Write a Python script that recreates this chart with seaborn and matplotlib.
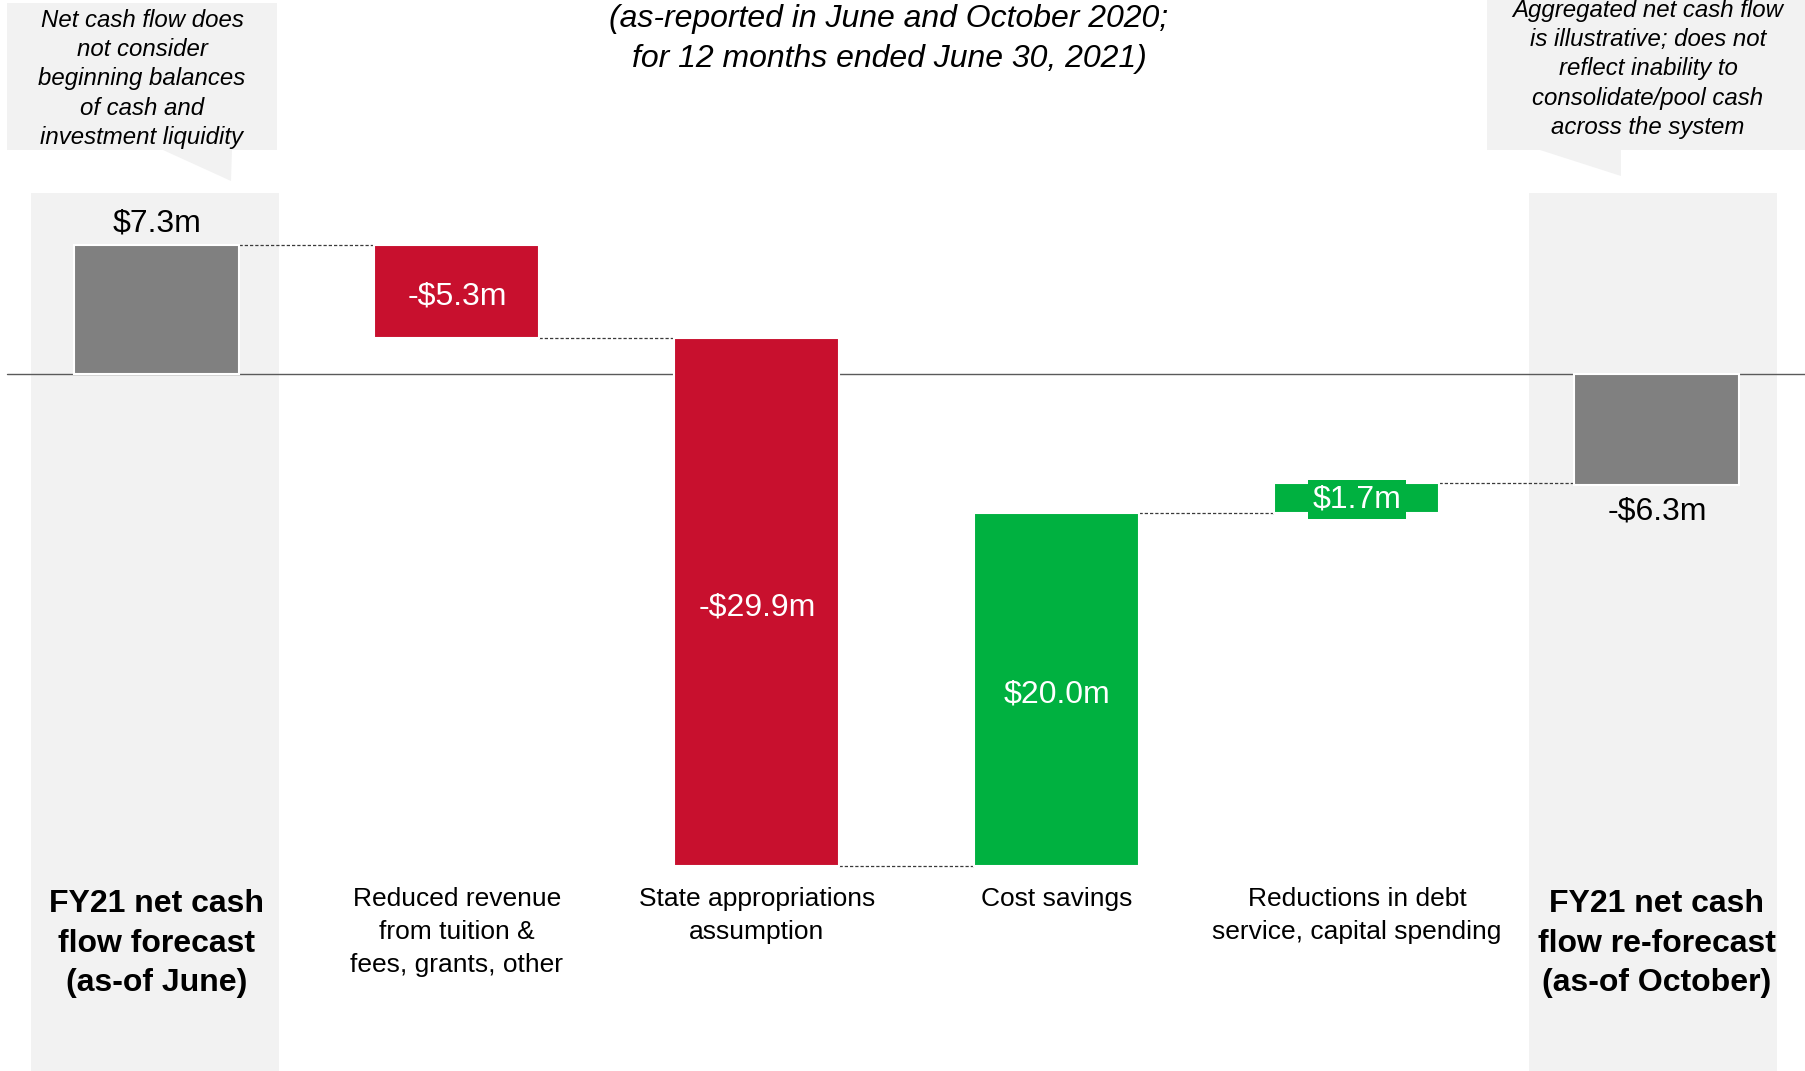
import numpy as np
import pandas as pd
import matplotlib
matplotlib.use("Agg")
import matplotlib.pyplot as plt
import matplotlib.transforms as mtransforms
from matplotlib.patches import Polygon
import seaborn as sns

# ---------------- data ----------------
keys = ["june", "revenue", "state", "cost", "debt", "october"]
category_labels = [
    "FY21 net cash\nflow forecast\n(as-of June)",
    "Reduced revenue\nfrom tuition &\nfees, grants, other",
    "State appropriations\nassumption",
    "Cost savings",
    "Reductions in debt\nservice, capital spending",
    "FY21 net cash\nflow re-forecast\n(as-of October)",
]
changes = [7.3, -5.3, -29.9, 20.0, 1.7, -6.3]
kinds = ["total", "delta", "delta", "delta", "delta", "total"]
value_labels = ["$7.3m", "-$5.3m", "-$29.9m", "$20.0m", "$1.7m", "-$6.3m"]
title_text = "(as-reported in June and October 2020;\nfor 12 months ended June 30, 2021)"
note_left = "Net cash flow does\nnot consider\nbeginning balances\nof cash and\ninvestment liquidity"
note_right = ("Aggregated net cash flow\nis illustrative; does not\nreflect inability to\n"
              "consolidate/pool cash\nacross the system")

# ---------------- styling ----------------
GRAY = "#808080"
RED = "#C8102E"
GREEN = "#00B140"
PANEL = "#F2F2F2"
LINE = "#5A5A5A"

sns.set_style("white")
plt.rcParams["font.family"] = ["Liberation Sans", "DejaVu Sans"]

W, H = 1806, 1071
fig = plt.figure(figsize=(W / 100, H / 100), dpi=100)
ax = fig.add_axes([0, 0, 1, 1])

# pixel geometry helpers (layout only)
X0, XSTEP = 157.0, 300.0     # pixel x of first category, spacing
Y0, YU = 373.5, 17.66        # pixel y of zero, pixels per unit


def py(p):
    return (Y0 - p) / YU


def pxx(p):
    return (p - X0) / XSTEP


PX = mtransforms.Affine2D().scale(1 / W, -1 / H).translate(0, 1) + fig.transFigure

# ---------------- waterfall geometry from data ----------------
bottoms, running = [], []
total = 0.0
for c, k in zip(changes, kinds):
    if k == "total":
        bottoms.append(0.0)
        total = c
    else:
        bottoms.append(total)
        total = total + c
    running.append(total)

colors = []
for c, k in zip(changes, kinds):
    if k == "total":
        colors.append(GRAY)
    else:
        colors.append(GREEN if c > 0 else RED)

df = pd.DataFrame({"cat": keys, "change": changes})

# background panels for the totals (pixel extents of the two panels)
for (l, r) in [(31, 279), (1529, 1777)]:
    ax.axvspan(pxx(l), pxx(r), ymin=0, ymax=1 - 193 / H,
               color=PANEL, zorder=0, lw=0)

# zero line
ax.axhline(0, xmin=7 / W, xmax=1, color=LINE, lw=1.0, zorder=1)

BW = 0.55
sns.barplot(data=df, x="cat", y="change", order=keys, bottom=bottoms,
            errorbar=None, width=BW, color=GRAY, edgecolor="white",
            linewidth=1.5, saturation=1, ax=ax, zorder=3)
for patch, col in zip(ax.containers[0], colors):
    patch.set_facecolor(col)

# connectors
for i in range(len(keys) - 1):
    ax.plot([i + BW / 2, i + 1 - BW / 2], [running[i], running[i]],
            color="#3A3A3A", lw=0.9, ls=(0, (2.6, 1.6)), zorder=2)

# value labels
SH = 0.28  # small downward nudge for visual centering
for i, (c, b, k, lab) in enumerate(zip(changes, bottoms, kinds, value_labels)):
    if k == "total":
        if c >= 0:
            ax.text(i, c + 1.45 - SH, lab, ha="center", va="center",
                    fontsize=23, color="black", zorder=5)
        else:
            ax.text(i, c - 1.5, lab, ha="center", va="center",
                    fontsize=23, color="black", zorder=5)
    else:
        mid = b + c / 2
        if abs(c) < 3:
            bbox = dict(boxstyle="square,pad=0.14", fc=colors[i], ec="none")
            ax.text(i, mid - 0.1, lab, ha="center", va="center", fontsize=23,
                    color="white", zorder=5, bbox=bbox)
        else:
            ax.text(i, mid - SH, lab, ha="center", va="center", fontsize=23,
                    color="white", zorder=5)

# category labels
for i, (lab, k) in enumerate(zip(category_labels, kinds)):
    if k == "total":
        ax.text(i, py(889), lab, ha="center", va="top", fontsize=23,
                fontweight="bold", linespacing=1.42, color="black")
    else:
        ax.text(i, py(887), lab, ha="center", va="top", fontsize=19,
                linespacing=1.47, color="black")

# callouts
left_poly = [(7, 3), (277, 3), (277, 150), (232, 150), (231, 181), (163, 150), (7, 150)]
right_poly = [(1487, 0), (1806, 0), (1806, 150), (1621, 150), (1621, 176), (1540, 150), (1487, 150)]
for poly in (left_poly, right_poly):
    ax.add_patch(Polygon(poly, closed=True, transform=PX, fc=PANEL, ec="none", zorder=1))

ax.text(142, 79, note_left, transform=PX, ha="center", va="center",
        fontsize=17.3, style="italic", linespacing=1.35, color="black")
ax.text(1648, 69, note_right, transform=PX, ha="center", va="center",
        fontsize=17.3, style="italic", linespacing=1.36, color="black")

# subtitle
ax.text(889, 39, title_text, transform=PX, ha="center", va="center",
        fontsize=23, style="italic", linespacing=1.40, color="black")

ax.set_xlim(-X0 / XSTEP, (W - X0) / XSTEP)
ax.set_ylim(py(H), py(0))
ax.axis("off")

fig.savefig("out.png", dpi=100, facecolor="white")
